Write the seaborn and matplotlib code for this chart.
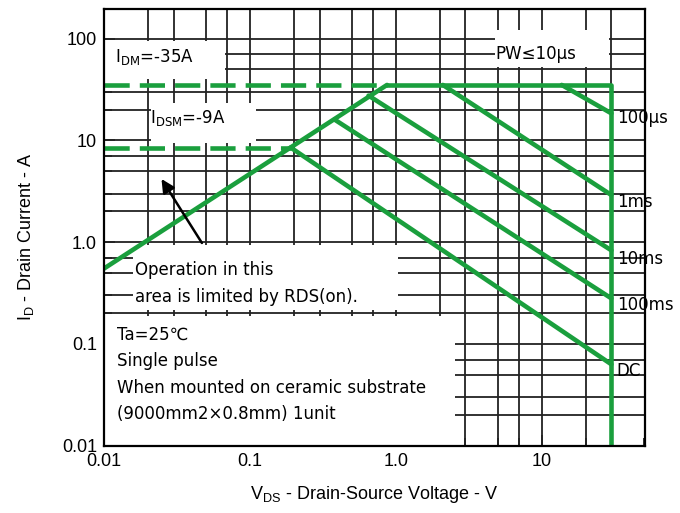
import numpy as np
import pandas as pd
import matplotlib
matplotlib.use("Agg")
import matplotlib.pyplot as plt
import matplotlib.ticker as mticker
import seaborn as sns

# safe operating area
rds_v = [0.01, 0.87]
rds_i = [0.55, 35]
limit_v = [0.87, 30, 30]
limit_i = [35, 35, 0.01]
pulse_100us_v = [13.7, 30]
pulse_100us_i = [35, 18.4]
pulse_1ms_v = [2.1, 30]
pulse_1ms_i = [35, 2.9]
pulse_10ms_v = [0.65, 30]
pulse_10ms_i = [27.5, 0.83]
pulse_100ms_v = [0.38, 30]
pulse_100ms_i = [16.0, 0.28]
dc_v = [0.19, 30]
dc_i = [8.5, 0.063]
idm_v = [0.01, 0.87]
idm_i = [35, 35]
idsm_v = [0.01, 0.19]
idsm_i = [8.5, 8.5]

curve_labels = ['100μs', '1ms', '10ms', '100ms', 'DC']
curve_label_i = [16.4, 2.5, 0.69, 0.24, 0.054]

xtick_vals = [0.01, 0.1, 1.0, 10]
xtick_labels = ['0.01', '0.1', '1.0', '10']
ytick_vals = [0.01, 0.1, 1.0, 10, 100]
ytick_labels = ['0.01', '0.1', '1.0', '10', '100']

grid_v = [0.02, 0.03, 0.05, 0.07, 0.1, 0.2, 0.3, 0.5, 0.7, 1, 2, 3, 5, 7, 10, 20, 30]
grid_i = [0.02, 0.03, 0.05, 0.07, 0.1, 0.2, 0.3, 0.5, 0.7, 1, 2, 3, 5, 7, 10,
          20, 30, 50, 70, 100]

green = '#1a9f3d'

sns.set_style("white")
plt.rcParams['font.family'] = ['DejaVu Sans', 'Noto Sans CJK JP']
plt.rcParams['text.color'] = 'black'
plt.rcParams['axes.labelcolor'] = 'black'
plt.rcParams['xtick.color'] = 'black'
plt.rcParams['ytick.color'] = 'black'

fig = plt.figure(figsize=(6.8, 5.13), dpi=100)
ax = fig.add_axes([104 / 680, 1 - 445.7 / 513, 541 / 680, 436.7 / 513])
ax.set_xscale('log')
ax.set_yscale('log')
ax.set_xlim(0.01, 51)
ax.set_ylim(0.01, 195)

# grid
for v in grid_v:
    ax.axvline(v, color='#222222', lw=1.3, zorder=1)
for i in grid_i:
    ax.axhline(i, color='#222222', lw=1.3, zorder=1)

# white label boxes that blank the grid
boxes = [
    (0.01, 0.068, 40, 95),
    (0.021, 0.11, 9.4, 23.5),
    (4.8, 29, 52, 120),
    (0.0158, 1.03, 0.215, 0.93),
    (0.01, 2.55, 0.01, 0.19),
]
for x0, x1, y0, y1 in boxes:
    ax.fill([x0, x1, x1, x0], [y0, y0, y1, y1], color='white', lw=0, zorder=1.5)

# curves
lw = 3.3
segs = [(rds_v, rds_i), (limit_v, limit_i), (pulse_100us_v, pulse_100us_i),
        (pulse_1ms_v, pulse_1ms_i), (pulse_10ms_v, pulse_10ms_i),
        (pulse_100ms_v, pulse_100ms_i), (dc_v, dc_i)]
for xs, ys in segs:
    sns.lineplot(x=xs, y=ys, ax=ax, color=green, lw=lw, sort=False,
                 estimator=None, zorder=3)
for xs, ys in [(idm_v, idm_i), (idsm_v, idsm_i)]:
    l = sns.lineplot(x=xs, y=ys, ax=ax, color=green, lw=lw, sort=False,
                     estimator=None, zorder=3)
    l.lines[-1].set_dashes([5.5, 2.2])

fs = 12
# labels of curves
for lab, yv in zip(curve_labels, curve_label_i):
    ax.text(32.7, yv, lab, fontsize=fs, va='center', ha='left', zorder=4)

ax.text(0.0119, 66, r'I$_\mathregular{DM}$=-35A', fontsize=fs, va='center', zorder=4)
ax.text(0.0207, 16.4, r'I$_\mathregular{DSM}$=-9A', fontsize=fs, va='center', zorder=4)
ax.text(4.8, 71, 'PW≤10μs', fontsize=fs, va='center', zorder=4)
ax.text(0.0163, 0.53, 'Operation in this', fontsize=fs, va='center', zorder=4)
ax.text(0.0163, 0.29, 'area is limited by RDS(on).', fontsize=fs, va='center', zorder=4)
ax.text(0.0123, 0.124, 'Ta=25℃', fontsize=fs, va='center', zorder=4)
ax.text(0.0123, 0.068, 'Single pulse', fontsize=fs, va='center', zorder=4)
ax.text(0.0123, 0.037, 'When mounted on ceramic substrate', fontsize=fs, va='center', zorder=4)
ax.text(0.0123, 0.0204, '(9000mm2×0.8mm) 1unit', fontsize=fs, va='center', zorder=4)

ax.annotate('', xy=(0.0242, 4.4), xytext=(0.048, 0.93),
            arrowprops=dict(arrowstyle='-|>', color='black', lw=1.8,
                            mutation_scale=20), zorder=4)

# axes & ticks
ax.xaxis.set_major_locator(mticker.FixedLocator(xtick_vals))
ax.xaxis.set_major_formatter(mticker.FixedFormatter(xtick_labels))
ax.yaxis.set_major_locator(mticker.FixedLocator(ytick_vals))
ax.yaxis.set_major_formatter(mticker.FixedFormatter(ytick_labels))
ax.xaxis.set_minor_locator(mticker.LogLocator(base=10, subs=[2, 3, 5, 7]))
ax.yaxis.set_minor_locator(mticker.LogLocator(base=10, subs=[2, 3, 5, 7]))
ax.xaxis.set_minor_formatter(mticker.NullFormatter())
ax.yaxis.set_minor_formatter(mticker.NullFormatter())
ax.tick_params(which='both', direction='in', color='#222222', width=1.3,
               left=True, bottom=True)
ax.tick_params(which='major', length=8, labelsize=13, pad=5)
ax.tick_params(which='minor', length=6)
for lab in ax.get_xticklabels() + ax.get_yticklabels():
    lab.set_family('Liberation Sans')
for s in ax.spines.values():
    s.set_color('black')
    s.set_linewidth(1.6)
    s.set_zorder(5)

ax.set_xlabel(r'V$_\mathregular{DS}$ - Drain-Source Voltage - V', fontsize=13,
              family='Liberation Sans')
ax.set_ylabel(r'I$_\mathregular{D}$ - Drain Current - A', fontsize=13,
              family='Liberation Sans')
ax.xaxis.set_label_coords(0.5, -0.088)
ax.yaxis.set_label_coords(-0.125, 0.479)

fig.savefig('out.png', dpi=100)
